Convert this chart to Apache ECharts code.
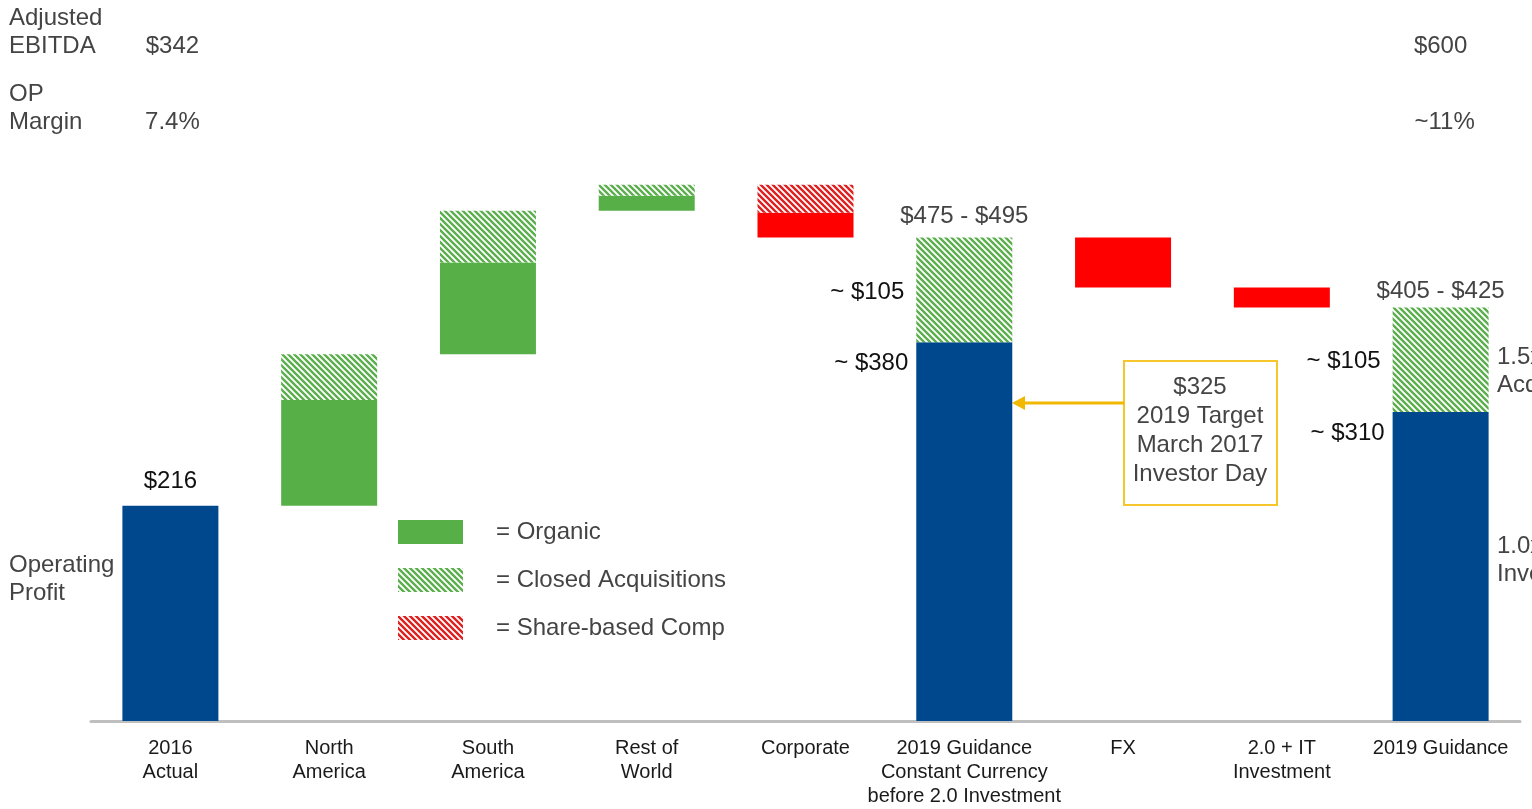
<!DOCTYPE html>
<html>
<head>
<meta charset="utf-8">
<script src="https://cdn.jsdelivr.net/npm/echarts@6/dist/echarts.min.js"></script>
<style>
  html, body { margin: 0; padding: 0; background: #fff; }
  #chart { width: 1532px; height: 809px; }
</style>
</head>
<body>
<div id="chart"></div>
<script>
  // categories along the bottom
  const categories = [
    '2016\nActual', 'North\nAmerica', 'South\nAmerica', 'Rest of\nWorld', 'Corporate',
    '2019 Guidance\nConstant Currency\nbefore 2.0 Investment', 'FX', '2.0 + IT\nInvestment', '2019 Guidance'
  ];
  // waterfall pieces ($M)
  const totals       = [216, null, null, null, null, 380, null, null, 310];
  const organic      = [null, 106, 92, 15, null, null, null, null, null];
  const acquisitions = [null, 46, 52, 11, null, 105, null, null, 105];
  const declines     = [null, null, null, null, 25, null, 50, 20, null];
  const shareComp    = [null, null, null, null, 28, null, null, null, null];
  // label texts
  const totalLabels = ['$216', '', '', '', '', '~ $380', '', '', '~ $310'];
  const acqLabels   = ['', '', '', '', '', '~ $105', '', '', '~ $105'];
  const rangeLabels = ['', '', '', '', '', '$475 - $495', '', '', '$405 - $425'];
  // header rows: 2016 Actual / 2019 Guidance
  const ebitdaRow = ['$342', '$600'];
  const marginRow = ['7.4%', '~11%'];

  const FONT = 'Liberation Sans, Arial, sans-serif';
  const GREY = '#444';

  // invisible offsets for the floating bars
  const offsets = [];
  let running = 0;
  for (let i = 0; i < categories.length; i++) {
    if (totals[i] != null) {
      offsets.push(0);
      running = totals[i] + (acquisitions[i] || 0);
    } else {
      const up = (organic[i] || 0) + (acquisitions[i] || 0);
      const down = (declines[i] || 0) + (shareComp[i] || 0);
      if (up > 0) { offsets.push(running); running += up; }
      else { running -= down; offsets.push(running); }
    }
  }

  function hatch(color) {
    const c = document.createElement('canvas');
    c.width = 6; c.height = 6;
    const ctx = c.getContext('2d');
    ctx.fillStyle = '#fff';
    ctx.fillRect(0, 0, 6, 6);
    ctx.strokeStyle = color;
    ctx.lineWidth = 2.4;
    ctx.beginPath();
    ctx.moveTo(-1, -1); ctx.lineTo(7, 7);
    ctx.moveTo(-1, 5); ctx.lineTo(1, 7);
    ctx.moveTo(5, -1); ctx.lineTo(7, 1);
    ctx.stroke();
    return { image: c, repeat: 'repeat' };
  }

  const chart = echarts.init(document.getElementById('chart'));

  const rangeDist = { 5: 9, 8: 4 };

  chart.setOption({
    animation: false,
    textStyle: { fontFamily: FONT },
    grid: { left: 91, right: 12, top: 123, bottom: 88 },
    legend: {
      data: ['Organic', 'Closed Acquisitions', 'Share-based Comp'],
      orient: 'vertical',
      left: 398, top: 520,
      padding: 0,
      itemWidth: 65, itemHeight: 24, itemGap: 24,
      icon: 'rect',
      selectedMode: false,
      formatter: '= {name}',
      textStyle: { fontSize: 24, color: GREY, fontFamily: FONT, padding: [0, 0, 0, 28] }
    },
    xAxis: {
      type: 'category',
      data: categories,
      axisLine: { lineStyle: { color: '#bfbfbf', width: 3 } },
      axisTick: { show: false },
      axisLabel: { fontSize: 20, lineHeight: 24, color: '#1a1a1a', margin: 15, interval: 0 }
    },
    yAxis: { type: 'value', min: 0, max: 600, show: false, splitLine: { show: false } },
    series: [
      {
        name: 'offset', type: 'bar', stack: 'wf', silent: true,
        itemStyle: { color: 'transparent' },
        data: offsets
      },
      {
        name: 'Operating Profit', type: 'bar', stack: 'wf', barWidth: 96,
        itemStyle: { color: '#00488e' },
        data: totals.map((v, i) => {
          if (!totalLabels[i]) return v;
          const lbl = i === 0
            ? { show: true, position: 'top', distance: 12, formatter: totalLabels[i], fontSize: 24, color: '#111' }
            : { show: true, position: [-8, 21], align: 'right', verticalAlign: 'middle', formatter: totalLabels[i], fontSize: 24, color: '#111' };
          return { value: v, label: lbl };
        })
      },
      {
        name: 'Organic', type: 'bar', stack: 'wf',
        itemStyle: { color: '#57b047' },
        data: organic
      },
      {
        name: 'Closed Acquisitions', type: 'bar', stack: 'wf',
        itemStyle: { color: hatch('#5cae4e') },
        data: acquisitions.map((v, i) => acqLabels[i]
          ? { value: v, label: { show: true, position: 'left', distance: 12, formatter: acqLabels[i], fontSize: 24, color: '#111', offset: [0, 2] } }
          : v)
      },
      {
        name: 'Decline', type: 'bar', stack: 'wf',
        itemStyle: { color: '#ff0000' },
        data: declines
      },
      {
        name: 'Share-based Comp', type: 'bar', stack: 'wf',
        itemStyle: { color: hatch('#de2020') },
        data: shareComp
      },
      {
        name: 'range', type: 'bar', stack: 'wf', silent: true,
        itemStyle: { color: 'transparent' },
        data: rangeLabels.map((t, i) => t
          ? { value: 0, label: { show: true, position: 'top', distance: rangeDist[i], formatter: t, fontSize: 24, color: GREY } }
          : null)
      }
    ]
  });

  // header values sit over their columns
  const x0 = chart.convertToPixel({ xAxisIndex: 0 }, 0);
  const x8 = chart.convertToPixel({ xAxisIndex: 0 }, 8);
  const txt = (x, y, text, extra) => Object.assign({
    type: 'text', x: x, y: y,
    style: Object.assign({ text: text, fill: GREY, fontSize: 24, fontFamily: FONT, verticalAlign: 'middle' }, extra || {})
  });

  chart.setOption({
    graphic: [
      txt(9, 32, 'Adjusted\nEBITDA', { lineHeight: 28 }),
      txt(9, 108, 'OP\nMargin', { lineHeight: 28 }),
      txt(x0 + 2, 46, ebitdaRow[0], { align: 'center' }),
      txt(x8, 46, ebitdaRow[1], { align: 'center' }),
      txt(x0 + 2, 122, marginRow[0], { align: 'center' }),
      txt(x8 + 4, 122, marginRow[1], { align: 'center' }),
      txt(9, 579, 'Operating\nProfit', { lineHeight: 28 }),
      txt(1497, 371, '1.5x\nAcquisitions', { lineHeight: 28 }),
      txt(1497, 560, '1.0x\nInvestment', { lineHeight: 28 }),
      {
        type: 'rect', shape: { x: 1124, y: 361, width: 153, height: 144 },
        style: { fill: '#fff', stroke: '#f5c72c', lineWidth: 2 }
      },
      txt(1200, 431, '$325\n2019 Target\nMarch 2017\nInvestor Day', { align: 'center', lineHeight: 29 }),
      {
        type: 'line', shape: { x1: 1124, y1: 403, x2: 1022, y2: 403 },
        style: { stroke: '#f2b800', lineWidth: 3 }
      },
      {
        type: 'polygon', shape: { points: [[1012, 403], [1025, 396], [1025, 410]] },
        style: { fill: '#f2b800' }
      }
    ]
  });
</script>
</body>
</html>
